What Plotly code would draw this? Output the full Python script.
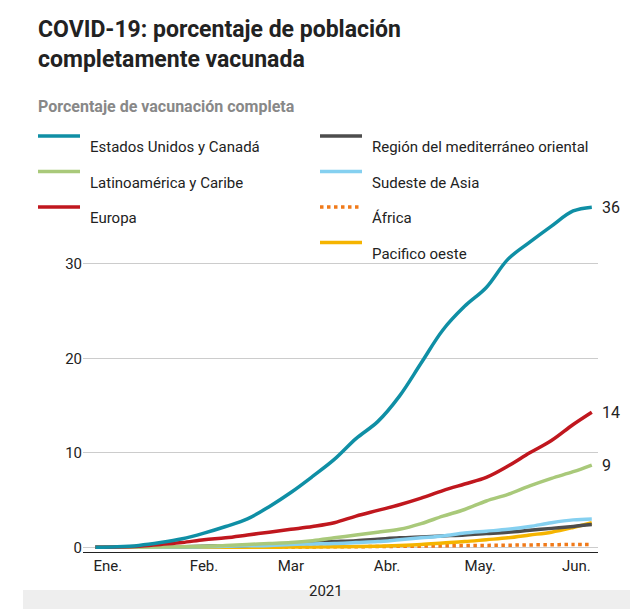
import plotly.graph_objects as go

dates = ["2020-12-28", "2021-01-04", "2021-01-11", "2021-01-18", "2021-01-25",
         "2021-02-01", "2021-02-08", "2021-02-15", "2021-02-22", "2021-03-01",
         "2021-03-08", "2021-03-15", "2021-03-22", "2021-03-29", "2021-04-05",
         "2021-04-12", "2021-04-19", "2021-04-26", "2021-05-03", "2021-05-10",
         "2021-05-17", "2021-05-24", "2021-05-31", "2021-06-06"]

eeuu = [0, 0.05, 0.2, 0.5, 0.9, 1.5, 2.2, 3.0, 4.3, 5.8, 7.5, 9.3, 11.5, 13.3,
        16.0, 19.5, 23.0, 25.5, 27.5, 30.5, 32.3, 34.0, 35.6, 36.0]
europa = [0, 0.02, 0.1, 0.3, 0.5, 0.8, 1.0, 1.3, 1.6, 1.9, 2.2, 2.6, 3.3, 3.9,
          4.5, 5.2, 6.0, 6.7, 7.4, 8.6, 10.0, 11.3, 13.0, 14.3]
latam = [0, 0, 0, 0.02, 0.05, 0.1, 0.2, 0.3, 0.4, 0.5, 0.7, 1.0, 1.3, 1.6,
         1.9, 2.5, 3.3, 4.0, 4.9, 5.6, 6.5, 7.3, 8.0, 8.7]
medit = [0, 0, 0, 0.02, 0.05, 0.1, 0.15, 0.2, 0.3, 0.4, 0.5, 0.6, 0.7, 0.85,
         1.0, 1.1, 1.2, 1.3, 1.45, 1.6, 1.8, 2.0, 2.2, 2.4]
sudeste = [0, 0, 0, 0, 0.02, 0.05, 0.1, 0.15, 0.2, 0.3, 0.35, 0.4, 0.5, 0.6,
           0.8, 1.0, 1.2, 1.5, 1.7, 1.9, 2.2, 2.6, 2.9, 3.0]
africa = [0, 0, 0, 0, 0, 0, 0, 0.01, 0.02, 0.03, 0.04, 0.05, 0.06, 0.08,
          0.1, 0.12, 0.15, 0.18, 0.2, 0.22, 0.25, 0.27, 0.3, 0.3]
pacifico = [0, 0, 0, 0, 0, 0, 0, 0, 0.01, 0.02, 0.03, 0.05, 0.08, 0.12,
            0.2, 0.3, 0.45, 0.6, 0.8, 1.0, 1.3, 1.6, 2.1, 2.6]

# name, values, colour, dash, legend column, legend row
series = [
    ("África", africa, "#f07a1a", "dot", 1, 2),
    ("Pacifico oeste", pacifico, "#f5b400", "solid", 1, 3),
    ("Región del mediterráneo oriental", medit, "#4d4d4d", "solid", 1, 0),
    ("Sudeste de Asia", sudeste, "#85d0f0", "solid", 1, 1),
    ("Latinoamérica y Caribe", latam, "#a9c97a", "solid", 0, 1),
    ("Europa", europa, "#c0171e", "solid", 0, 2),
    ("Estados Unidos y Canadá", eeuu, "#0f8fa5", "solid", 0, 0),
]

PLOT_L, PLOT_W, PLOT_B, PLOT_H = 75, 515, 544, 359


def px_x(px):
    return (px - PLOT_L) / PLOT_W


def px_y(py):
    return (PLOT_B - py) / PLOT_H


fig = go.Figure()
for name, vals, color, dash, col, row in series:
    fig.add_trace(go.Scatter(x=dates, y=vals, name=name, mode="lines",
                             line=dict(color=color, width=3.5, dash=dash, shape="spline"),
                             hoverinfo="skip", showlegend=False))
    # hand-built legend entry
    x0 = 30 if col == 0 else 312
    ly = 128 + row * 35.5
    fig.add_shape(type="line", xref="paper", yref="paper",
                  x0=px_x(x0), x1=px_x(x0 + 42), y0=px_y(ly), y1=px_y(ly),
                  line=dict(color=color, width=3.5, dash=dash))
    fig.add_annotation(xref="paper", yref="paper", x=px_x(x0 + 50), y=px_y(ly),
                       text=name, xanchor="left", showarrow=False,
                       font=dict(size=15, color="#222"))

for vals in [eeuu, europa, latam]:
    fig.add_annotation(x=dates[-1], y=vals[-1], text=str(round(vals[-1])),
                       xanchor="left", xshift=8, showarrow=False,
                       font=dict(size=16, color="#222"))

fig.add_annotation(xref="paper", yref="paper", x=px_x(28), y=px_y(6),
                   text="<b>COVID-19: porcentaje de población<br>completamente vacunada</b>",
                   xanchor="left", yanchor="top", align="left", showarrow=False,
                   font=dict(size=23, color="#222"))
fig.add_annotation(xref="paper", yref="paper", x=px_x(28), y=px_y(87),
                   text="<b>Porcentaje de vacunación completa</b>",
                   xanchor="left", showarrow=False, font=dict(size=16, color="#888"))

fig.add_shape(type="rect", xref="paper", yref="paper", x0=px_x(15), x1=px_x(625),
              y0=px_y(606), y1=px_y(582), fillcolor="#eeeeee", line_width=0, layer="below")
fig.add_annotation(xref="paper", yref="paper", x=px_x(318), y=px_y(594), text="2021",
                   showarrow=False, font=dict(size=15, color="#222"))

fig.update_layout(
    width=638, height=609,
    paper_bgcolor="white", plot_bgcolor="white",
    font=dict(family="Roboto", size=15, color="#222"),
    margin=dict(l=75, r=48, t=185, b=65),
    xaxis=dict(range=["2020-12-24", "2021-06-08"], tickvals=["2021-01-01", "2021-02-01", "2021-03-01",
               "2021-04-01", "2021-05-01", "2021-06-01"],
               ticktext=["Ene.", "Feb.", "Mar", "Abr.", "May.", "Jun."],
               showgrid=False, showline=True, linecolor="#222", ticks="", zeroline=False),
    yaxis=dict(range=[-0.5, 37.5], tickvals=[0, 10, 20, 30], gridcolor="#cccccc",
               zeroline=False, ticks=""),
    showlegend=False,
)

fig.write_html("out.html")
